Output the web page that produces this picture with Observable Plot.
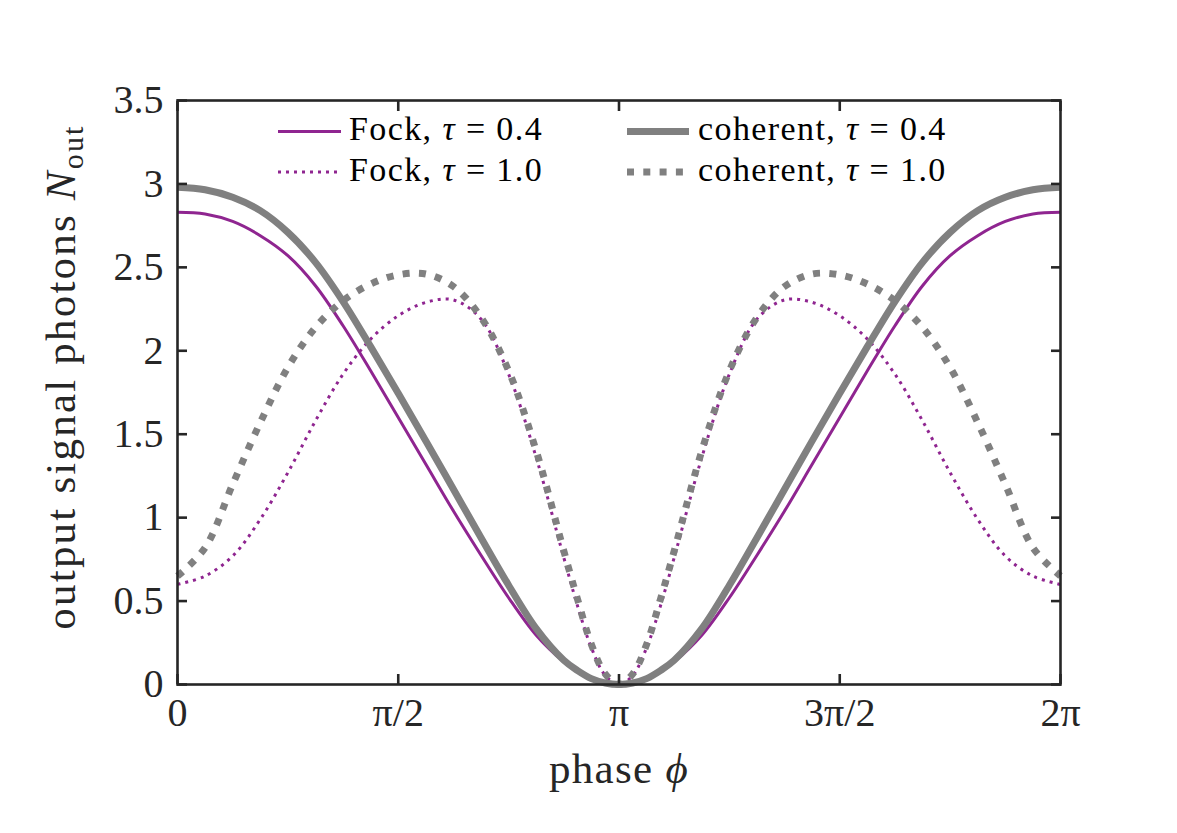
<!DOCTYPE html>
<html>
<head>
<meta charset="utf-8">
<script src="https://cdn.jsdelivr.net/npm/d3@7"></script>
<script src="https://cdn.jsdelivr.net/npm/@observablehq/plot@0.6"></script>
<style>
  body { margin: 0; background: #ffffff; }
  #chart svg { display: block; }
</style>
</head>
<body>
<div id="chart"></div>
<script>
// phase in units of pi/16
const phiSteps = [0,1,2,3,4,5,6,7,8,9,10,11,12,13,14,14.5,15,15.5,16,16.5,17,17.5,18,19,20,21,22,23,24,25,26,27,28,29,30,31,32];

const fock04 = [2.83,2.82,2.775,2.69,2.57,2.39,2.15,1.88,1.60,1.32,1.04,0.775,0.52,0.295,0.135,0.075,0.035,0.008,0,
                0.008,0.035,0.075,0.135,0.295,0.52,0.775,1.04,1.32,1.60,1.88,2.15,2.39,2.57,2.69,2.775,2.82,2.83];
const fock10 = [0.60,0.65,0.77,0.99,1.27,1.58,1.86,2.07,2.21,2.29,2.305,2.19,1.86,1.36,0.76,0.47,0.22,0.055,0,
                0.055,0.22,0.47,0.76,1.36,1.86,2.19,2.305,2.29,2.21,2.07,1.86,1.58,1.27,0.99,0.77,0.65,0.60];
const coherent04 = [2.98,2.965,2.92,2.84,2.71,2.53,2.295,2.025,1.745,1.46,1.17,0.88,0.595,0.335,0.145,0.083,0.035,0.009,0,
                    0.009,0.035,0.083,0.145,0.335,0.595,0.88,1.17,1.46,1.745,2.025,2.295,2.53,2.71,2.84,2.92,2.965,2.98];
const coherent10 = [0.65,0.82,1.20,1.57,1.90,2.14,2.30,2.40,2.455,2.46,2.385,2.20,1.88,1.40,0.80,0.51,0.24,0.064,0,
                    0.064,0.24,0.51,0.80,1.40,1.88,2.20,2.385,2.46,2.455,2.40,2.30,2.14,1.90,1.57,1.20,0.82,0.65];

const xTickSteps = [0, 8, 16, 24, 32];
const xTickLabels = ["0", "π/2", "π", "3π/2", "2π"];
const yTicks = [0, 0.5, 1, 1.5, 2, 2.5, 3, 3.5];
const yTickLabels = ["0", "0.5", "1", "1.5", "2", "2.5", "3", "3.5"];

const legendEntries = [
  {name: "Fock", tau: "0.4"},
  {name: "Fock", tau: "1.0"},
  {name: "coherent", tau: "0.4"},
  {name: "coherent", tau: "1.0"}
];

const PURPLE = "#8f2590";
const GRAY = "#808080";
const AXC = "#262626";
const FONT = "Liberation Serif, DejaVu Serif, serif";

const toRows = vals => phiSteps.map((k, i) => ({phi: k * Math.PI / 16, N: vals[i]}));
const xTickValues = xTickSteps.map(k => k * Math.PI / 16);

const styles = [
  {data: fock04, stroke: PURPLE, strokeWidth: 3, dash: null},
  {data: fock10, stroke: PURPLE, strokeWidth: 3, dash: "3,5"},
  {data: coherent04, stroke: GRAY, strokeWidth: 7, dash: null},
  {data: coherent10, stroke: GRAY, strokeWidth: 7, dash: "7,9.3"}
];

const lineMarks = styles.map(s => Plot.lineY(toRows(s.data), {
  x: "phi", y: "N", stroke: s.stroke, strokeWidth: s.strokeWidth,
  strokeDasharray: s.dash, strokeLinecap: "butt", strokeLinejoin: "round",
  curve: "catmull-rom"
}));

const W = 1177, H = 833;
const svg = Plot.plot({
  width: W, height: H,
  marginLeft: 177, marginRight: 117, marginTop: 100, marginBottom: 149,
  x: {domain: [0, 2 * Math.PI]},
  y: {domain: [0, 3.5]},
  style: {fontFamily: FONT, color: AXC, background: "#ffffff", overflow: "visible"},
  marks: [
    ...lineMarks,
    Plot.frame({stroke: AXC, strokeWidth: 2.6}),
    Plot.axisX(xTickValues, {anchor: "bottom", tickSize: -10, tickPadding: 23, strokeWidth: 2.6,
      fontSize: 40, tickFormat: d => xTickLabels[xTickValues.indexOf(d)], label: null}),
    Plot.axisX(xTickValues, {anchor: "top", tickSize: -10, strokeWidth: 2.6, fill: "none", label: null}),
    Plot.axisY(yTicks, {anchor: "left", tickSize: -10, tickPadding: 24, strokeWidth: 2.6,
      fontSize: 40, tickFormat: d => yTickLabels[yTicks.indexOf(d)], label: null}),
    Plot.axisY(yTicks, {anchor: "right", tickSize: -10, strokeWidth: 2.6, fill: "none", label: null})
  ]
});

const sel = d3.select(svg);

// x label
const xl = sel.append("text")
  .attr("x", 619).attr("y", 783)
  .attr("text-anchor", "middle")
  .attr("fill", AXC)
  .attr("font-family", FONT)
  .style("font-family", FONT).style("font-size", "43px").style("letter-spacing", "1.3px");
xl.append("tspan").text("phase ");
xl.append("tspan").attr("font-style", "italic").text("ϕ");

// y label
const yl = sel.append("text")
  .attr("transform", "translate(75,377) rotate(-90)")
  .attr("text-anchor", "middle")
  .attr("fill", AXC)
  .attr("font-family", FONT)
  .style("font-family", FONT).style("font-size", "43px").style("letter-spacing", "2.2px");
yl.append("tspan").text("output signal photons ");
yl.append("tspan").attr("font-style", "italic").text("N");
yl.append("tspan").attr("font-size", "30px").attr("dy", "8").text("out");

// legend
const legendPos = [
  {x0: 278, x1: 341, tx: 349, y: 131.5},
  {x0: 278, x1: 341, tx: 349, y: 172},
  {x0: 627, x1: 689, tx: 698, y: 131.5},
  {x0: 627, x1: 689, tx: 698, y: 172}
];
const lg = sel.append("g").attr("text-anchor", "start");
legendEntries.forEach((e, i) => {
  const p = legendPos[i], s = styles[i];
  lg.append("line")
    .attr("x1", p.x0).attr("x2", p.x1).attr("y1", p.y).attr("y2", p.y)
    .attr("stroke", s.stroke).attr("stroke-width", s.strokeWidth)
    .attr("stroke-dasharray", s.dash).attr("stroke-linecap", "butt");
  const t = lg.append("text")
    .attr("x", p.tx).attr("y", p.y + 8.5)
    .attr("text-anchor", "start")
    .attr("fill", "#000")
    .attr("font-family", FONT)
    .style("font-family", FONT).style("font-size", "34px").style("letter-spacing", "1.4px");
  t.append("tspan").text(e.name + ", ");
  t.append("tspan").attr("font-style", "italic").text("τ");
  t.append("tspan").text(" = " + e.tau);
});

document.getElementById("chart").appendChild(svg);
</script>
</body>
</html>
